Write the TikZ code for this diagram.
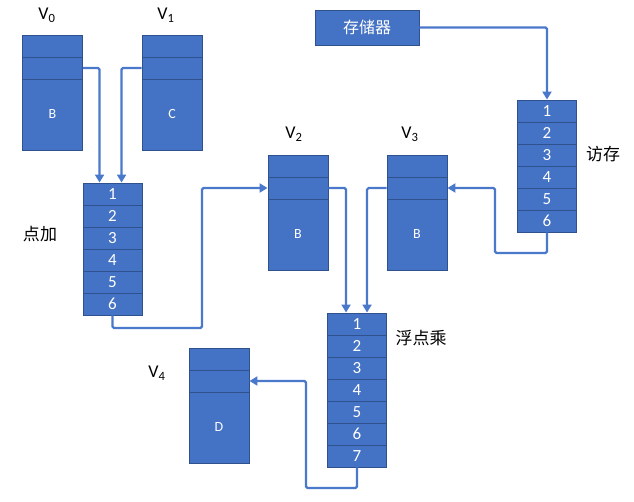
\documentclass[tikz,border=0pt]{standalone}
\usepackage{fontspec}
\setmainfont{Carlito}
\newfontfamily\cjk{Noto Sans CJK SC}
\usetikzlibrary{arrows.meta}
\definecolor{boxblue}{HTML}{4472C4}
\definecolor{boxedge}{HTML}{2F528F}
\definecolor{linkblue}{HTML}{4A78CA}
\begin{document}
\begin{tikzpicture}[x=1pt,y=-1pt,
  cell/.style={rectangle,fill=boxblue,draw=boxedge,line width=0.9pt,minimum width=60pt,inner sep=0pt,text=white,font=\fontsize{17}{17}\selectfont},
  rowcell/.style={cell,minimum height=22pt},
  bodycell/.style={cell,minimum height=71pt,font=\fontsize{14}{14}\selectfont},
  stagecell/.style={cell,minimum width=59pt,minimum height=22pt},
  lab/.style={font=\fontsize{18}{18}\selectfont,inner sep=0pt},
  cjklab/.style={font=\cjk\fontsize{17}{17}\selectfont,inner sep=0pt},
  conn/.style={draw=linkblue,line width=2.2pt,rounded corners=1.5pt},
  tip/.style={-{Triangle[length=8pt,width=9pt]}}
]
\useasboundingbox (0,0) rectangle (634,501);

% register boxes
\foreach \n/\x/\y/\t in {v0/52.5/35/B, v1/172/35/C, v2/298/155/B, v3/417/155/B, v4/219/348/D}{
  \node[rowcell] (\n a) at (\x,\y+11) {};
  \node[rowcell] (\n b) at (\x,\y+33) {};
  \node[bodycell] (\n c) at (\x,\y+79.5) {\t};
}
\node[lab] (l0) at (47,15) {V\textsubscript{0}};
\node[lab] (l1) at (166,15) {V\textsubscript{1}};
\node[lab] (l2) at (294,134) {V\textsubscript{2}};
\node[lab] (l3) at (410,134) {V\textsubscript{3}};
\node[lab] (l4) at (157,373) {V\textsubscript{4}};

% pipelines
\foreach \i in {1,...,6}{
  \node[stagecell] (add\i) at (112.5,172+22*\i) {\i};
  \node[stagecell] (acc\i) at (547,89+22*\i) {\i};
}
\foreach \i in {1,...,7}{
  \node[stagecell] (mul\i) at (357,302+22*\i) {\i};
}
\node[cjklab] (ladd) at (40,234) {点加};
\node[cjklab] (lacc) at (603,154) {访存};
\node[cjklab] (lmul) at (421,338) {浮点乘};

% memory
\node[rectangle,fill=boxblue,draw=boxedge,line width=0.9pt,minimum width=104pt,minimum height=35pt,inner sep=0pt,text=white,font=\cjk\fontsize{16}{16}\selectfont] (mem) at (367,27.5) {存储器};

% connectors
\coordinate (t1) at (202,328);
\coordinate (t2) at (306,488);
\coordinate (t3) at (495,253);
\draw[conn,tip] (v0b.east) -| ([xshift=17pt]add1.north west);
\draw[conn,tip] (v1b.west) -| ([xshift=39pt]add1.north west);
\draw[conn,tip] (add6.south) |- (t1) |- (v2b.west);
\draw[conn,tip] (v2b.east) -| ([xshift=19pt]mul1.north west);
\draw[conn,tip] (v3b.west) -| ([xshift=40pt]mul1.north west);
\draw[conn,tip] (mul7.south) |- (t2) |- (v4b.east);
\draw[conn,tip] (mem.east) -| (acc1.north);
\draw[conn,tip] (acc6.south) |- (t3) |- (v3b.east);
\end{tikzpicture}
\end{document}
